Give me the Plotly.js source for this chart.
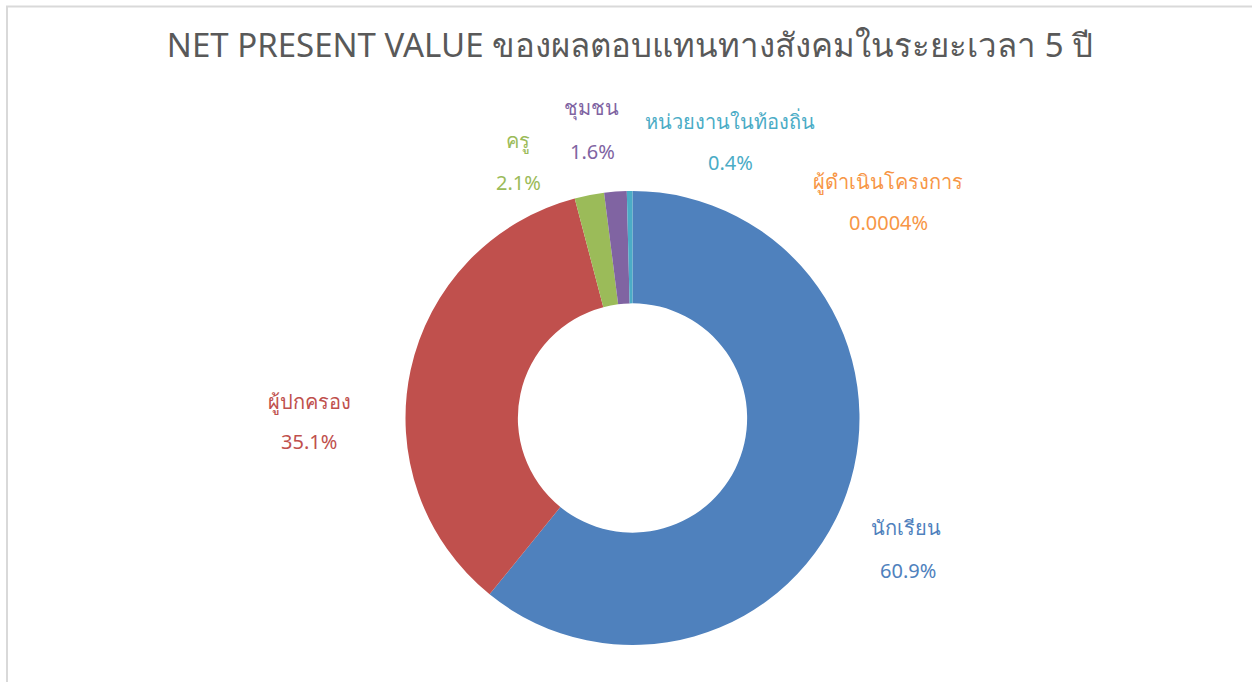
<!DOCTYPE html>
<html>
<head>
<meta charset="utf-8">
<script src="https://cdn.plot.ly/plotly-3.0.1.min.js"></script>
<style>
  html, body { margin: 0; padding: 0; background: #ffffff; }
  #chart { width: 1252px; height: 682px; }
</style>
</head>
<body>
<div id="chart"></div>
<script>
// ---- data ----
const categories = ["นักเรียน", "ผู้ปกครอง", "ครู", "ชุมชน", "หน่วยงานในท้องถิ่น", "ผู้ดำเนินโครงการ"];
const values = [60.9, 35.1, 2.1, 1.6, 0.4, 0.0004];
const pctLabels = ["60.9%", "35.1%", "2.1%", "1.6%", "0.4%", "0.0004%"];
const colors = ["#4F81BD", "#C0504D", "#9BBB59", "#8064A2", "#4BACC6", "#F79646"];

// ---- layout helpers ----
const W = 1252, H = 682;
const FONT = "Noto Sans, Open Sans, sans-serif";
// label anchor positions in pixels (name line, percent line)
const labelPos = [
  [906, 527, 908, 570],
  [309, 401, 309, 441],
  [518, 140, 518, 182],
  [591, 108, 592, 151],
  [730, 121, 730, 162],
  [888, 181, 888, 223]
];

const annotations = [];
categories.forEach((c, i) => {
  const p = labelPos[i];
  annotations.push({
    xref: "paper", yref: "paper", x: p[0] / W, y: 1 - p[1] / H,
    xanchor: "center", yanchor: "middle", showarrow: false,
    text: c, font: { family: FONT, size: 20, color: colors[i] }
  });
  annotations.push({
    xref: "paper", yref: "paper", x: p[2] / W, y: 1 - p[3] / H,
    xanchor: "center", yanchor: "middle", showarrow: false,
    text: pctLabels[i], font: { family: FONT, size: 20, color: colors[i] }
  });
});

const trace = {
  type: "pie",
  labels: categories,
  values: values,
  hole: 0.505,
  sort: false,
  direction: "clockwise",
  rotation: 0,
  textinfo: "none",
  hoverinfo: "label+percent",
  marker: { colors: colors, line: { width: 0 } },
  domain: { x: [405 / W, 860 / W], y: [(H - 645) / H, (H - 191) / H] },
  showlegend: false
};

const layout = {
  width: W, height: H,
  margin: { l: 0, r: 0, t: 0, b: 0 },
  paper_bgcolor: "#ffffff",
  showlegend: false,
  title: {
    text: "NET PRESENT VALUE ของผลตอบแทนทางสังคมในระยะเวลา 5 ปี",
    font: { family: FONT, size: 33, color: "#595959" },
    x: 630 / W, xanchor: "center",
    y: 1 - 45 / H, yanchor: "middle"
  },
  annotations: annotations,
  shapes: [
    { type: "line", xref: "paper", yref: "paper", x0: 6 / W, x1: 1, y0: 1 - 6.5 / H, y1: 1 - 6.5 / H,
      line: { color: "#D9D9D9", width: 2 } },
    { type: "line", xref: "paper", yref: "paper", x0: 7 / W, x1: 7 / W, y0: 0, y1: 1 - 6 / H,
      line: { color: "#D9D9D9", width: 2 } }
  ]
};

Plotly.newPlot("chart", [trace], layout, { displayModeBar: false, staticPlot: true });
</script>
</body>
</html>
